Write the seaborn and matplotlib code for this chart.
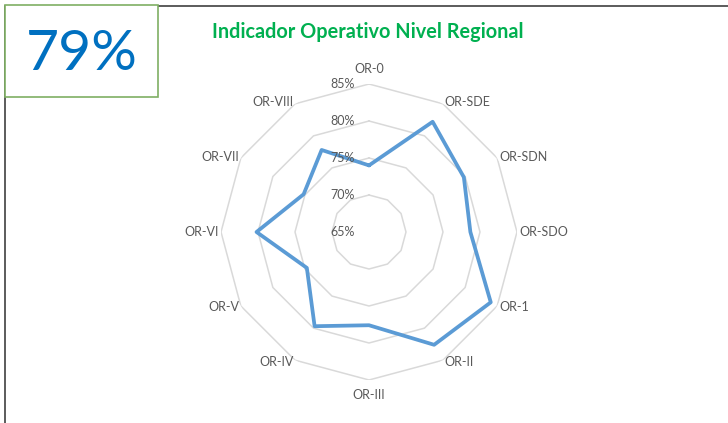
import numpy as np
import pandas as pd
import matplotlib
matplotlib.use("Agg")
import matplotlib.pyplot as plt
import matplotlib.transforms as mtransforms
from matplotlib.patches import Rectangle
import seaborn as sns

# ------------------------------
# Data
# ------------------------------
categorias = ["OR-0", "OR-SDE", "OR-SDN", "OR-SDO", "OR-1", "OR-II",
              "OR-III", "OR-IV", "OR-V", "OR-VI", "OR-VII", "OR-VIII"]
valores = [74.0, 82.2, 79.8, 78.7, 84.0, 82.6,
           77.6, 79.7, 74.7, 80.2, 75.2, 77.8]
niveles = [65, 70, 75, 80, 85]
indicador = "79%"
titulo = "Indicador Operativo Nivel Regional"

sns.set_theme(style="white")
plt.rcParams["font.family"] = ["Lato", "DejaVu Sans"]

gris = "#595959"
azul = "#5B9BD5"

# angles for the spokes, closed polygon
theta = np.linspace(0, 2 * np.pi, len(categorias), endpoint=False)
df = pd.DataFrame({"theta": np.append(theta, theta[0]),
                   "valor": valores + [valores[0]]})

fig = plt.figure(figsize=(7.28, 4.23), dpi=100)
fig.patch.set_facecolor("white")

# chart border (top and left edges visible)
fig.patches.append(Rectangle((5 / 728, -0.1), 1.2, (423 - 6) / 423 + 0.1,
                             transform=fig.transFigure, fill=False,
                             edgecolor="#404040", linewidth=1.2, zorder=0))

ax = fig.add_axes([221 / 728, 43 / 423, 296 / 728, 296 / 423], projection="polar")
ax.set_theta_zero_location("N")
ax.set_theta_direction(-1)
ax.set_ylim(niveles[0], niveles[-1])
ax.grid(False)
ax.spines["polar"].set_visible(False)
ax.set_facecolor("none")

# polygon gridlines like Excel's radar chart
for nivel in niveles[1:]:
    ax.plot(np.append(theta, theta[0]), [nivel] * (len(theta) + 1),
            color="#D9D9D9", linewidth=1.1, zorder=1)

sns.lineplot(data=df, x="theta", y="valor", sort=False, estimator=None,
             ax=ax, color=azul, linewidth=2.7, zorder=3)
ax.set_xlabel("")
ax.set_ylabel("")
ax.set_xticks([])
ax.set_yticks([])

# category labels just outside the outer ring, aligned by side
for ang, cat in zip(theta, categorias):
    s = np.sin(ang)
    c = np.cos(ang)
    r_lab = niveles[-1] + 0.3
    if abs(s) < 0.01:
        ha = "center"
        va = "bottom" if c > 0 else "top"
        r_lab += 0.9
    else:
        ha = "left" if s > 0 else "right"
        va = "center"
    ax.text(ang, r_lab, cat, ha=ha, va=va, color=gris, fontsize=9)

# radial value labels to the left of the vertical axis
off = mtransforms.offset_copy(ax.transData, fig=fig, x=-14, y=0, units="dots")
for nivel in niveles:
    ax.text(0, nivel, f"{nivel}%", transform=off, ha="right", va="center",
            color=gris, fontsize=9)

fig.text(368 / 728, 1 - 32 / 423, titulo, ha="center", va="center",
         color="#00B050", fontsize=14.3, fontweight="bold")

# KPI box in the corner
fig.patches.append(Rectangle((5 / 728, 1 - 97 / 423), 153 / 728, 92 / 423,
                             transform=fig.transFigure, facecolor="white",
                             edgecolor="#7FAF63", linewidth=1.2, zorder=2))
fig.text(82 / 728, 1 - 55 / 423, indicador, ha="center", va="center",
         color="#0070C0", fontsize=41, zorder=3)

fig.savefig("out.png", dpi=100, facecolor="white")
